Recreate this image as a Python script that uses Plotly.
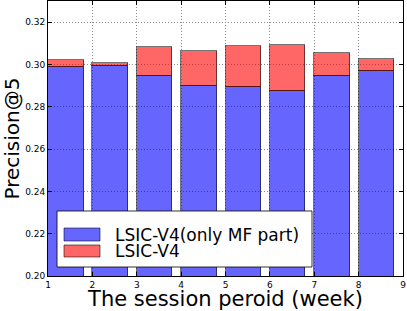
import plotly.graph_objects as go

periods = [1, 2, 3, 4, 5, 6, 7, 8]
mf_part = [0.2986, 0.2995, 0.2945, 0.2899, 0.2894, 0.2875, 0.2944, 0.2971]
lsic_v4 = [0.3019, 0.3008, 0.3082, 0.3063, 0.3087, 0.3093, 0.3052, 0.3028]
names = ["LSIC-V4(only MF part)", "LSIC-V4"]
y_ticks = [0.20, 0.22, 0.24, 0.26, 0.28, 0.30, 0.32]
x_ticks = [1, 2, 3, 4, 5, 6, 7, 8, 9]

blue = "rgba(0,0,255,0.6)"
red = "rgba(255,0,0,0.6)"
edge = dict(color="rgba(0,0,0,0.55)", width=1)
font = "DejaVu Sans"

gain = [t - b for t, b in zip(lsic_v4, mf_part)]

fig = go.Figure()
fig.add_trace(go.Bar(x=periods, y=mf_part, width=0.8, offset=0,
                     marker=dict(color=blue, line=edge), name=names[0], showlegend=False))
fig.add_trace(go.Bar(x=periods, y=gain, base=mf_part, width=0.8, offset=0,
                     marker=dict(color=red, line=edge), name=names[1], showlegend=False))

axis_common = dict(showline=True, linecolor="black", linewidth=1, mirror="ticks",
                   ticks="inside", ticklen=4, tickcolor="black",
                   showgrid=True, gridcolor="#8c8c8c", gridwidth=1, griddash="1px,2px",
                   zeroline=False, tickfont=dict(family=font, size=9, color="black"))

fig.update_xaxes(range=[1, 9], tickvals=x_ticks, ticktext=[str(v) for v in x_ticks],
                 title=dict(text="The session peroid (week)", font=dict(family=font, size=21, color="black"), standoff=5),
                 **axis_common)
fig.update_yaxes(range=[0.20, 0.33], tickvals=y_ticks, ticktext=[f"{v:.2f}" for v in y_ticks],
                 title=dict(text="Precision@5", font=dict(family=font, size=20, color="black"), standoff=5),
                 **axis_common)

# legend drawn in paper coordinates
shapes = [
    dict(type="rect", xref="paper", yref="paper", x0=0.0254, x1=0.7437, y0=0.0327, y1=0.2364,
         fillcolor="white", line=dict(color="rgba(0,0,0,0.8)", width=1), layer="above"),
    dict(type="rect", xref="paper", yref="paper", x0=0.0451, x1=0.1465, y0=0.1273, y1=0.1745,
         fillcolor=blue, line=edge, layer="above"),
    dict(type="rect", xref="paper", yref="paper", x0=0.0451, x1=0.1465, y0=0.0691, y1=0.1127,
         fillcolor=red, line=edge, layer="above"),
]
annotations = [
    dict(xref="paper", yref="paper", x=0.183, y=0.1509, text=names[0], showarrow=False,
         xanchor="left", yanchor="middle", font=dict(family=font, size=17, color="black")),
    dict(xref="paper", yref="paper", x=0.183, y=0.0909, text=names[1], showarrow=False,
         xanchor="left", yanchor="middle", font=dict(family=font, size=17, color="black")),
]

fig.update_layout(width=407, height=311, barmode="stack", bargap=0,
                  margin=dict(l=48, r=4, t=1, b=35, autoexpand=False),
                  plot_bgcolor="white", paper_bgcolor="white",
                  shapes=shapes, annotations=annotations,
                  font=dict(family=font, color="black"))

fig.write_html("out.html", config=dict(displayModeBar=False),
               post_script="document.body.style.margin='0';document.body.style.overflow='hidden';")
